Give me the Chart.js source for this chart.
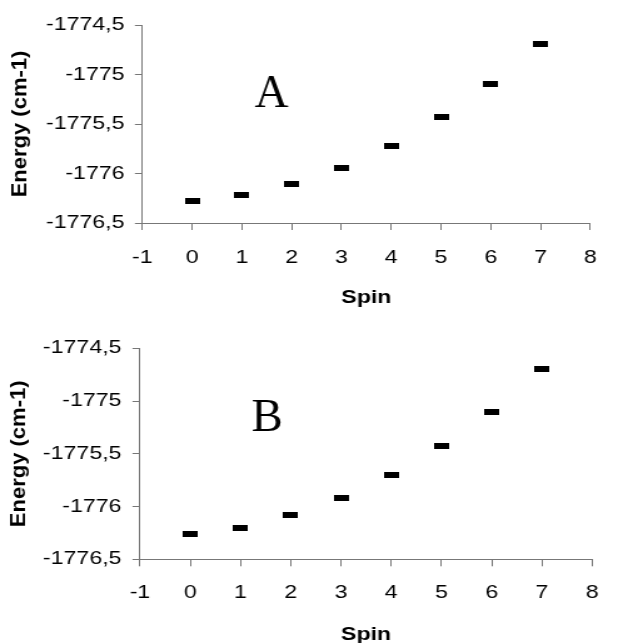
<!DOCTYPE html>
<html>
<head>
<meta charset="utf-8">
<script src="https://cdn.jsdelivr.net/npm/chart.js@4/dist/chart.umd.min.js"></script>
<style>
html,body{margin:0;padding:0;background:#fff;overflow:hidden;}
canvas{display:block;}
</style>
</head>
<body>
<canvas id="cA" width="494" height="320" style="width:618px;height:320px"></canvas>
<canvas id="cB" width="494" height="323" style="width:618px;height:323px"></canvas>
<script>
// ---- data ----
const spins = [0, 1, 2, 3, 4, 5, 6, 7];
const energyA = [-1776.28, -1776.22, -1776.11, -1775.94, -1775.72, -1775.43, -1775.10, -1774.69];
const energyB = [-1776.26, -1776.20, -1776.08, -1775.92, -1775.70, -1775.43, -1775.10, -1774.70];
const xTickRange = [-1, 8];
const yTickRange = [-1776.5, -1774.5];
const yStep = 0.5;
const panelLabels = ['A', 'B'];
const xTitle = 'Spin';
const yTitle = 'Energy (cm-1)';

const SANS = '"Liberation Sans", Arial, sans-serif';

// dash marker (canvas is stretched 1.25x horizontally by CSS)
function makeDash() {
  const c = document.createElement('canvas');
  c.width = 12; c.height = 6;
  const g = c.getContext('2d');
  g.fillStyle = '#000';
  g.fillRect(0, 0, 12, 6);
  return c;
}
const dash = makeDash();

const letterPlugin = {
  id: 'letter',
  afterDraw(chart, args, opts) {
    const ctx = chart.ctx;
    const x = chart.scales.x.getPixelForValue(opts.x);
    const y = chart.scales.y.getPixelForValue(opts.y);
    ctx.save();
    ctx.translate(x, y);
    ctx.scale(0.8, 1);
    ctx.font = '47px "Liberation Serif", "Times New Roman", serif';
    ctx.fillStyle = '#000';
    ctx.textAlign = 'center';
    ctx.textBaseline = 'alphabetic';
    ctx.fillText(opts.text, 0, 0);
    ctx.restore();
  }
};

const yTitlePlugin = {
  id: 'ytitle',
  afterDraw(chart, args, opts) {
    const ctx = chart.ctx;
    const a = chart.chartArea;
    ctx.save();
    ctx.translate(opts.cx, (a.top + a.bottom) / 2);
    ctx.rotate(-Math.PI / 2);
    ctx.scale(1, 0.74);
    ctx.font = 'bold 22px ' + SANS;
    ctx.fillStyle = '#000';
    ctx.textAlign = 'center';
    ctx.textBaseline = 'middle';
    ctx.fillText(opts.text, 0, 0);
    ctx.restore();
  }
};

function makeChart(id, values, lay) {
  const pts = spins.map((s, i) => ({x: s, y: values[i]}));
  return new Chart(document.getElementById(id), {
    type: 'scatter',
    data: { datasets: [{ data: pts, pointStyle: dash, pointRadius: 8, pointHoverRadius: 8 }] },
    plugins: [letterPlugin, yTitlePlugin],
    options: {
      responsive: false,
      animation: false,
      events: [],
      layout: { padding: { left: 0, top: lay.top, right: lay.right, bottom: 0 } },
      plugins: {
        legend: { display: false },
        tooltip: { enabled: false },
        letter: { text: lay.text, x: lay.lx, y: lay.ly },
        ytitle: { text: yTitle, cx: lay.ycx }
      },
      scales: {
        x: {
          type: 'linear',
          min: xTickRange[0], max: xTickRange[1],
          afterFit(s) { s.height = lay.xh; },
          ticks: { stepSize: 1, color: '#000', padding: lay.xpad, maxRotation: 0,
                   font: { family: SANS, size: 18.5 } },
          grid: { drawOnChartArea: false, drawTicks: true, tickLength: 7, color: '#777' },
          border: { color: '#777' },
          title: { display: true, text: xTitle, color: '#000',
                   padding: { top: 0, bottom: lay.xtpad },
                   font: { family: SANS, size: 18.5, weight: 'bold' } }
        },
        y: {
          type: 'linear',
          min: yTickRange[0], max: yTickRange[1],
          afterFit(s) { s.width = lay.yw; },
          ticks: { stepSize: yStep, color: '#000', padding: lay.ypad,
                   font: { family: SANS, size: 18.5 },
                   callback: v => String(v).replace('.', ',') },
          grid: { drawOnChartArea: false, drawTicks: true, tickLength: 6, color: '#777' },
          border: { color: '#777' },
          title: { display: false }
        }
      }
    }
  });
}

makeChart('cA', energyA, { top: 25, right: 13.8, yw: 113.8, xh: 97, xpad: 17, xtpad: 11, ypad: 8.3, ycx: 16.8,
  text: panelLabels[0], lx: 1.595, ly: -1775.33 });
makeChart('cB', energyB, { top: 28.3, right: 5.8, yw: 111.9, xh: 83.7, xpad: 15.5, xtpad: -3, ypad: 8.8, ycx: 15.2,
  text: panelLabels[1], lx: 1.533, ly: -1775.28 });
</script>
</body>
</html>
